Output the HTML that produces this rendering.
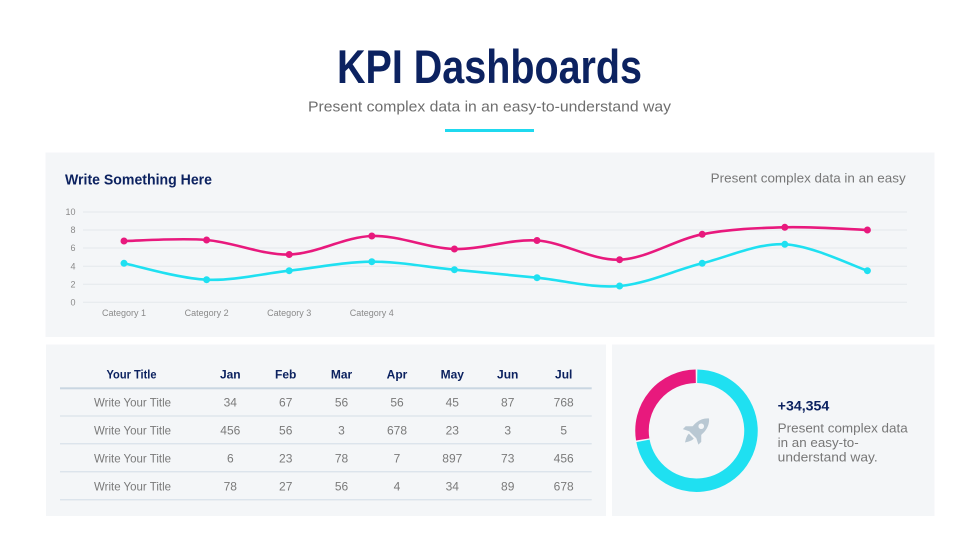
<!DOCTYPE html>
<html><head><meta charset="utf-8"><style>
html,body{margin:0;padding:0;background:#fff;}
svg{display:block;}
text{font-family:"Liberation Sans",Arial,sans-serif;}
</style></head><body>
<svg width="980" height="551" viewBox="0 0 980 551" xmlns="http://www.w3.org/2000/svg">
<rect width="980" height="551" fill="#ffffff"/>
<!-- Header -->
<text x="337" y="83" font-size="47" font-weight="bold" fill="#0c2260" textLength="305" lengthAdjust="spacingAndGlyphs">KPI Dashboards</text>
<text x="308" y="111.5" font-size="15" fill="#6e6e6e" textLength="363" lengthAdjust="spacingAndGlyphs">Present complex data in an easy-to-understand way</text>
<rect x="445" y="129" width="89" height="3" fill="#1fd9ef"/>

<!-- Panels -->
<rect x="45.5" y="152.5" width="889" height="184.5" fill="#f4f6f8"/>
<rect x="46" y="344.5" width="560" height="171.5" fill="#f4f6f8"/>
<rect x="612" y="344.5" width="322.5" height="171.5" fill="#f4f6f8"/>

<!-- Chart title -->
<text x="65" y="184.3" font-size="15" font-weight="bold" fill="#0c2260" textLength="147" lengthAdjust="spacingAndGlyphs">Write Something Here</text>
<text x="710.7" y="182.3" font-size="13" fill="#777" textLength="195" lengthAdjust="spacingAndGlyphs">Present complex data in an easy</text>

<!-- Grid -->
<g stroke="#e4e8ec" stroke-width="1">
<line x1="83" y1="212" x2="907" y2="212"/>
<line x1="83" y1="230" x2="907" y2="230"/>
<line x1="83" y1="248" x2="907" y2="248"/>
<line x1="83" y1="266.3" x2="907" y2="266.3"/>
<line x1="83" y1="284.3" x2="907" y2="284.3"/>
<line x1="83" y1="302.3" x2="907" y2="302.3"/>
</g>
<g font-size="9" fill="#8a8a8a" text-anchor="end">
<text x="75.5" y="215.2">10</text>
<text x="75.5" y="233.2">8</text>
<text x="75.5" y="251.2">6</text>
<text x="75.5" y="269.5">4</text>
<text x="75.5" y="287.5">2</text>
<text x="75.5" y="305.5">0</text>
</g>
<g font-size="9" fill="#8a8a8a" text-anchor="middle">
<text x="124" y="316">Category 1</text>
<text x="206.6" y="316">Category 2</text>
<text x="289.2" y="316">Category 3</text>
<text x="371.8" y="316">Category 4</text>
</g>

<!-- Series -->
<path fill="none" stroke="#e8197d" stroke-width="2.6" d="M124,241 C137.77,240.83 179.07,237.75 206.6,240 C234.13,242.25 261.87,255.17 289.2,254.5 C316.73,253.83 344.27,236.92 371.8,236 C399.33,235.08 426.87,248.25 454.4,249 C481.93,249.75 509.47,238.72 537,240.5 C564.53,242.28 592.07,260.73 619.6,259.7 C647.13,258.67 674.67,239.7 702.2,234.3 C729.73,228.9 757.27,228.02 784.8,227.3 C812.33,226.58 853.63,229.55 867.4,230"/>
<path fill="none" stroke="#1fe0f1" stroke-width="2.6" d="M124,263.3 C137.77,266.03 179.07,278.47 206.6,279.7 C234.13,280.93 261.87,273.7 289.2,270.7 C316.73,267.7 344.27,261.87 371.8,261.7 C399.33,261.53 426.87,267.03 454.4,269.7 C481.93,272.37 509.47,274.98 537,277.7 C564.53,280.42 592.07,288.4 619.6,286 C647.13,283.6 674.67,270.25 702.2,263.3 C729.73,256.35 757.27,243.07 784.8,244.3 C812.33,245.53 853.63,266.3 867.4,270.7"/>
<g fill="#e8197d">
<circle cx="124" cy="241" r="3.5"/><circle cx="206.6" cy="240" r="3.5"/><circle cx="289.2" cy="254.5" r="3.5"/><circle cx="371.8" cy="236" r="3.5"/><circle cx="454.4" cy="249" r="3.5"/><circle cx="537" cy="240.5" r="3.5"/><circle cx="619.6" cy="259.7" r="3.5"/><circle cx="702.2" cy="234.3" r="3.5"/><circle cx="784.8" cy="227.3" r="3.5"/><circle cx="867.4" cy="230" r="3.5"/>
</g>
<g fill="#1fe0f1">
<circle cx="124" cy="263.3" r="3.5"/><circle cx="206.6" cy="279.7" r="3.5"/><circle cx="289.2" cy="270.7" r="3.5"/><circle cx="371.8" cy="261.7" r="3.5"/><circle cx="454.4" cy="269.7" r="3.5"/><circle cx="537" cy="277.7" r="3.5"/><circle cx="619.6" cy="286" r="3.5"/><circle cx="702.2" cy="263.3" r="3.5"/><circle cx="784.8" cy="244.3" r="3.5"/><circle cx="867.4" cy="270.7" r="3.5"/>
</g>

<!-- Table -->
<g font-size="12" font-weight="bold" fill="#0c2260" text-anchor="middle">
<text x="131.5" y="378.5" font-size="11.5" textLength="50" lengthAdjust="spacingAndGlyphs">Your Title</text>
<text x="230.3" y="378.5">Jan</text>
<text x="285.7" y="378.5">Feb</text>
<text x="341.5" y="378.5">Mar</text>
<text x="397" y="378.5">Apr</text>
<text x="452.3" y="378.5">May</text>
<text x="507.7" y="378.5">Jun</text>
<text x="563.7" y="378.5">Jul</text>
</g>
<rect x="60" y="387.3" width="531.7" height="2" fill="#c9d6e2"/>
<g fill="#d3dde6">
<rect x="60" y="415.5" width="531.7" height="1"/>
<rect x="60" y="443.3" width="531.7" height="1"/>
<rect x="60" y="471.3" width="531.7" height="1"/>
<rect x="60" y="499.3" width="531.7" height="1"/>
</g>
<g font-size="12" fill="#7a7a7a" text-anchor="middle">
<text x="132.5" y="406.7" textLength="77" lengthAdjust="spacingAndGlyphs">Write Your Title</text>
<text x="230.3" y="406.7">34</text><text x="285.7" y="406.7">67</text><text x="341.5" y="406.7">56</text><text x="397" y="406.7">56</text><text x="452.3" y="406.7">45</text><text x="507.7" y="406.7">87</text><text x="563.7" y="406.7">768</text>
<text x="132.5" y="434.5" textLength="77" lengthAdjust="spacingAndGlyphs">Write Your Title</text>
<text x="230.3" y="434.5">456</text><text x="285.7" y="434.5">56</text><text x="341.5" y="434.5">3</text><text x="397" y="434.5">678</text><text x="452.3" y="434.5">23</text><text x="507.7" y="434.5">3</text><text x="563.7" y="434.5">5</text>
<text x="132.5" y="462.5" textLength="77" lengthAdjust="spacingAndGlyphs">Write Your Title</text>
<text x="230.3" y="462.5">6</text><text x="285.7" y="462.5">23</text><text x="341.5" y="462.5">78</text><text x="397" y="462.5">7</text><text x="452.3" y="462.5">897</text><text x="507.7" y="462.5">73</text><text x="563.7" y="462.5">456</text>
<text x="132.5" y="490.3" textLength="77" lengthAdjust="spacingAndGlyphs">Write Your Title</text>
<text x="230.3" y="490.3">78</text><text x="285.7" y="490.3">27</text><text x="341.5" y="490.3">56</text><text x="397" y="490.3">4</text><text x="452.3" y="490.3">34</text><text x="507.7" y="490.3">89</text><text x="563.7" y="490.3">678</text>
</g>

<!-- Donut -->
<path fill="none" stroke="#1fe0f1" stroke-width="13.5" d="M697.26,376.21 A54.5,54.5 0 1 1 642.96,440.91"/>
<path fill="none" stroke="#e8197d" stroke-width="13.5" d="M642.70,439.41 A54.5,54.5 0 0 1 695.74,376.21"/>
<!-- Rocket -->
<g transform="translate(697,430.5) rotate(45)" fill="#b9c8d3">
<path d="M0,-17 C7,-11 7,-2 5,6 L-5,6 C-7,-2 -7,-11 0,-17Z"/>
<path d="M-5,-1 L-11,5 L-11,9 L-5,6Z"/>
<path d="M5,-1 L11,5 L11,9 L5,6Z"/>
<path d="M-3.5,8 L3.5,8 C3.5,12 1,15 0,17 C-1,15 -3.5,12 -3.5,8Z"/>
<circle cx="0" cy="-6" r="2.8" fill="#f4f6f8"/>
</g>
<text x="777.7" y="410.3" font-size="13.5" font-weight="bold" fill="#0c2260" textLength="51.6" lengthAdjust="spacingAndGlyphs">+34,354</text>
<g font-size="12.5" fill="#777">
<text x="777.7" y="432.7" textLength="130" lengthAdjust="spacingAndGlyphs">Present complex data</text>
<text x="777.7" y="447" textLength="81" lengthAdjust="spacingAndGlyphs">in an easy-to-</text>
<text x="777.7" y="461.7" textLength="100" lengthAdjust="spacingAndGlyphs">understand way.</text>
</g>
</svg>
</body></html>
